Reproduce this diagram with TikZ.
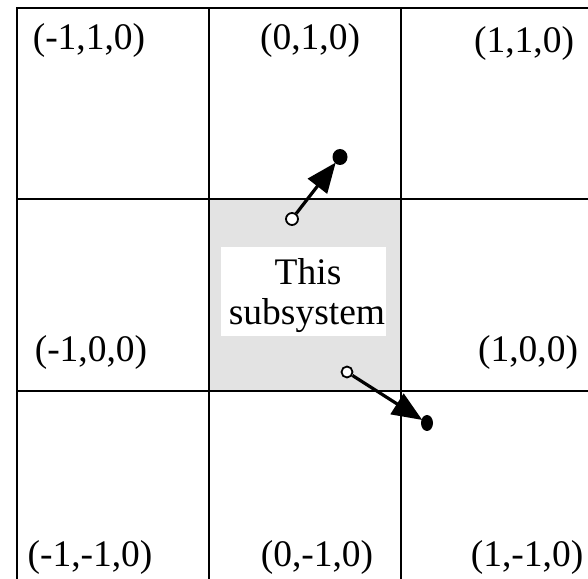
\documentclass[tikz,border=0pt]{standalone}
\usepackage{fontspec}
\setmainfont{Liberation Serif}
\usetikzlibrary{arrows.meta,shapes.geometric}
\definecolor{cellgray}{HTML}{E3E3E3}
\tikzset{
  gridline/.style={line width=2.5pt, line cap=rect},
  lab/.style={anchor=base, inner sep=0pt, font=\fontsize{37.5}{42}\selectfont},
  opendot/.style={circle, draw, fill=white, line width=1.8pt, inner sep=0pt, minimum size=#1},
  fulldot/.style={ellipse, fill=black, inner sep=0pt},
  movearrow/.style={line width=3.2pt, -{Triangle[length=30pt,width=24pt]}, shorten >=-1pt}
}
\begin{document}
\begin{tikzpicture}[x=1pt,y=1pt]
\useasboundingbox (0,0) rectangle (588,578);
% shaded centre cell
\fill[cellgray] (209,187) rectangle (401,379);
% grid
\draw[gridline] (17,570) -- (17,0);
\draw[gridline] (209,570) -- (209,0);
\draw[gridline] (401,570) -- (401,0);
\draw[gridline] (17,570) -- (588,570);
\draw[gridline] (17,379) -- (588,379);
\draw[gridline] (17,187) -- (588,187);
% white label box
\node[fill=white, minimum width=165pt, minimum height=89pt, inner sep=0pt] (box) at (303.5,286.5) {};
\node[lab] (this) at (308,293) {This};
\node[lab] (sub) at (307,253) {subsystem};
% labels
\node[lab] (l1) at (89,528) {(-1,1,0)};
\node[lab] (l2) at (310,528) {(0,1,0)};
\node[lab] (l3) at (524,525) {(1,1,0)};
\node[lab] (l4) at (91,216) {(-1,0,0)};
\node[lab] (l5) at (528,216) {(1,0,0)};
\node[lab] (l6) at (90,12) {(-1,-1,0)};
\node[lab] (l7) at (317,12) {(0,-1,0)};
\node[lab] (l8) at (527,12) {(1,-1,0)};
% particles
\node[opendot=12pt] (o1) at (292,359) {};
\node[fulldot, minimum width=15pt, minimum height=16pt] (f1) at (340,421) {};
\node[opendot=11pt] (o2) at (347,206) {};
\node[fulldot, minimum width=12pt, minimum height=16pt] (f2) at (427,155) {};
\draw[movearrow] (o1) -- (f1);
\draw[movearrow] (o2) -- (f2);
\end{tikzpicture}
\end{document}
